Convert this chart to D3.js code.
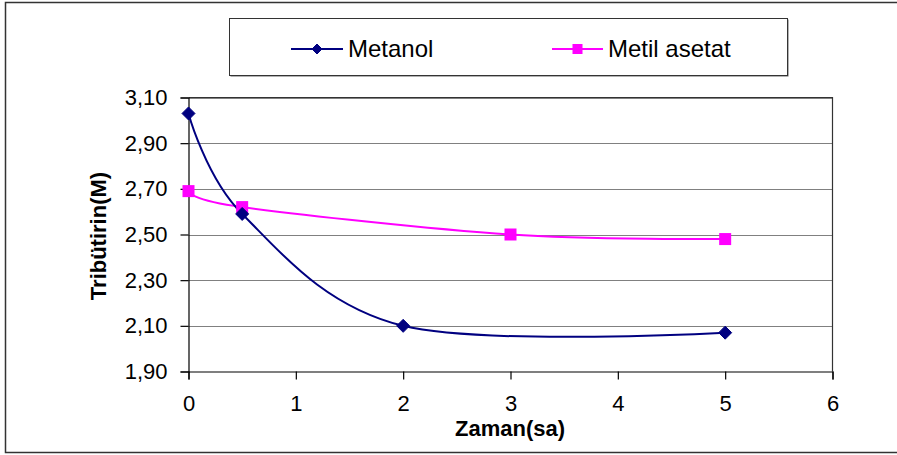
<!DOCTYPE html>
<html>
<head>
<meta charset="utf-8">
<script src="https://cdn.jsdelivr.net/npm/d3@7"></script>
<style>
  html, body { margin: 0; padding: 0; background: #fff; }
  svg { display: block; font-family: "Liberation Sans", Arial, sans-serif; }
</style>
</head>
<body>
<svg id="chart" width="897" height="455"></svg>
<script>
// Time (hours) and tributyrin concentration (M) for each alcohol source
const metanolTime = [0, 0.5, 2, 5];
const metanolValues = [3.03, 2.59, 2.10, 2.07];
const asetatTime = [0, 0.5, 3, 5];
const asetatValues = [2.69, 2.62, 2.50, 2.48];
const seriesNames = ["Metanol", "Metil asetat"];
const xTicks = [0, 1, 2, 3, 4, 5, 6];
const yTicks = [1.9, 2.1, 2.3, 2.5, 2.7, 2.9, 3.1];
const xTitle = "Zaman(sa)";
const yTitle = "Tribütirin(M)";

const svg = d3.select("#chart");
const locale = d3.formatLocale({ decimal: ",", thousands: ".", grouping: [3], currency: ["", ""] });
const fmt = locale.format(".2f");

const x = d3.scaleLinear().domain([0, 6]).range([188.5, 832.5]);
const y = d3.scaleLinear().domain([1.9, 3.1]).range([371.5, 97.5]);

// outer chart frame
svg.append("rect")
  .attr("x", 5.5).attr("y", 2.5).attr("width", 900).attr("height", 450)
  .attr("fill", "#fff").attr("stroke", "#333").attr("stroke-width", 1.5);

// horizontal gridlines
svg.append("g").selectAll("line").data(yTicks.slice(1)).join("line")
  .attr("x1", x(0)).attr("x2", x(6))
  .attr("y1", d => Math.round(y(d)) + 0.5).attr("y2", d => Math.round(y(d)) + 0.5)
  .attr("stroke", "#808080").attr("stroke-width", 1.2);

// plot area right/top edges
svg.append("path")
  .attr("d", `M${x(0)},${y(3.1)}H${x(6)}V${y(1.9)}`)
  .attr("fill", "none").attr("stroke", "#333").attr("stroke-width", 1.2);

// axes
const yAxis = d3.axisLeft(y).tickValues(yTicks).tickFormat(fmt).tickSize(8).tickPadding(13);
const gy = svg.append("g").attr("transform", `translate(${x(0)},0)`).call(yAxis);
const xAxis = d3.axisBottom(x).tickValues(xTicks).tickFormat(d3.format("d")).tickSize(8).tickPadding(16);
const gx = svg.append("g").attr("transform", `translate(0,${y(1.9)})`).call(xAxis);
[gx, gy].forEach(g => {
  g.select(".domain").attr("stroke", "#000").attr("stroke-width", 1.2);
  g.selectAll(".tick line").attr("stroke", "#000").attr("stroke-width", 1.2);
  g.selectAll(".tick text").attr("font-size", 22).attr("fill", "#000")
    .attr("font-family", "Liberation Sans, Arial, sans-serif");
});

// axis titles
svg.append("text").attr("x", 510).attr("y", 436).attr("text-anchor", "middle")
  .attr("font-size", 22).attr("font-weight", "bold").text(xTitle);
svg.append("text").attr("transform", "translate(106,236) rotate(-90)")
  .attr("text-anchor", "middle").attr("font-size", 22).attr("font-weight", "bold").text(yTitle);

// series lines (smoothed)
const line = d3.line().x(d => x(d[0])).y(d => y(d[1])).curve(d3.curveCardinal.tension(0));
const metanolPts = metanolTime.map((t, i) => [t, metanolValues[i]]);
const asetatPts = asetatTime.map((t, i) => [t, asetatValues[i]]);

function drawDiamond(g, cx, cy, r, color) {
  g.append("path")
    .attr("d", `M${cx},${cy - r}L${cx + r},${cy}L${cx},${cy + r}L${cx - r},${cy}Z`)
    .attr("fill", color).attr("stroke", color).attr("stroke-width", 1);
}
function drawSquare(g, cx, cy, r, color) {
  g.append("rect").attr("x", cx - r).attr("y", cy - r).attr("width", 2 * r).attr("height", 2 * r)
    .attr("fill", color);
}

svg.append("path").datum(asetatPts).attr("d", line)
  .attr("fill", "none").attr("stroke", "#FF00FF").attr("stroke-width", 2);
svg.append("path").datum(metanolPts).attr("d", line)
  .attr("fill", "none").attr("stroke", "#000080").attr("stroke-width", 2);

const marks = svg.append("g");
asetatPts.forEach(p => drawSquare(marks, x(p[0]), y(p[1]), 6, "#FF00FF"));
metanolPts.forEach(p => drawDiamond(marks, x(p[0]), y(p[1]), 6.5, "#000080"));

// legend
const lg = svg.append("g");
lg.append("rect").attr("x", 230.5).attr("y", 19.5).attr("width", 558).attr("height", 57)
  .attr("fill", "#666");
lg.append("rect").attr("x", 229.5).attr("y", 18.5).attr("width", 558).attr("height", 57)
  .attr("fill", "#fff").attr("stroke", "#333").attr("stroke-width", 1);

const legendItems = [
  { name: seriesNames[0], color: "#000080", x0: 291, x1: 343, shape: "diamond" },
  { name: seriesNames[1], color: "#FF00FF", x0: 552, x1: 603, shape: "square" }
];
legendItems.forEach(it => {
  const cy = 49;
  lg.append("line").attr("x1", it.x0).attr("x2", it.x1).attr("y1", cy).attr("y2", cy)
    .attr("stroke", it.color).attr("stroke-width", 2);
  const cx = (it.x0 + it.x1) / 2;
  if (it.shape === "diamond") drawDiamond(lg, cx, cy, 5, it.color);
  else drawSquare(lg, cx, cy, 5, it.color);
  lg.append("text").attr("x", it.x1 + 5).attr("y", 57).attr("font-size", 24)
    .attr("fill", "#000").text(it.name);
});
</script>
</body>
</html>
